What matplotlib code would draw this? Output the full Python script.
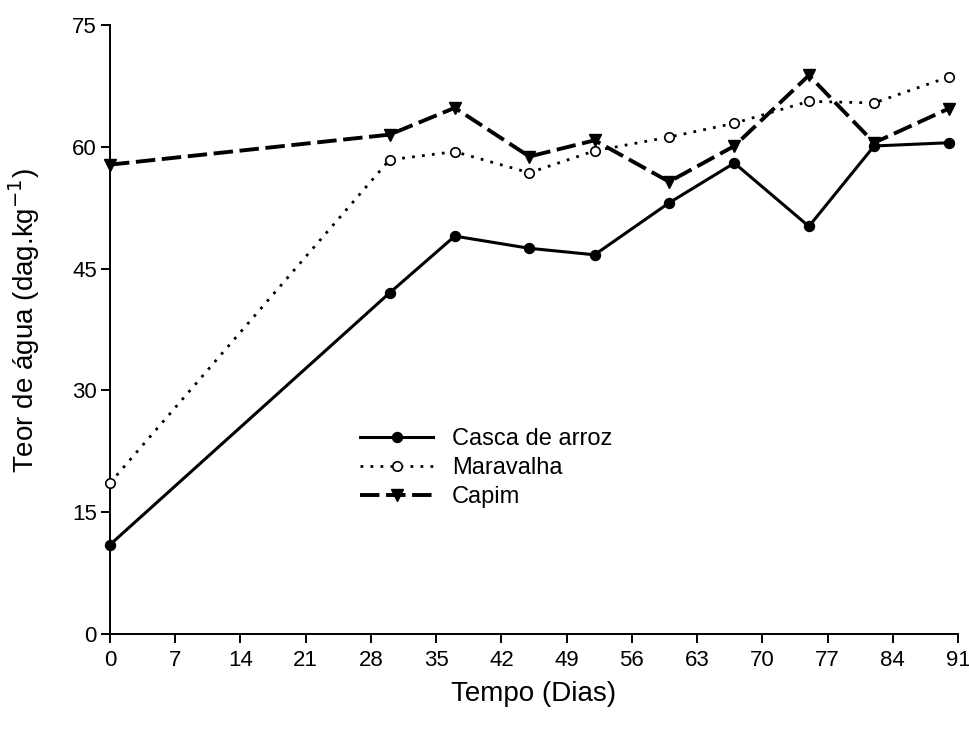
import matplotlib
matplotlib.use("Agg")
import matplotlib.pyplot as plt

plt.rcParams['font.family'] = ['Liberation Sans', 'DejaVu Sans']

dias = [0, 30, 37, 45, 52, 60, 67, 75, 82, 90]
casca = [11.0, 42.0, 49.0, 47.5, 46.7, 53.1, 58.0, 50.2, 60.1, 60.5]
maravalha = [18.6, 58.4, 59.4, 56.8, 59.5, 61.2, 62.9, 65.6, 65.4, 68.6]
capim = [57.8, 61.5, 64.8, 58.8, 60.8, 55.7, 60.1, 68.8, 60.5, 64.7]

xticks = list(range(0, 92, 7))
yticks = list(range(0, 76, 15))

fig = plt.figure(figsize=(9.69, 7.35), dpi=100)
ax = fig.add_axes([110/969, 1 - 634/735, (958-110)/969, (634-25)/735])

ax.plot(dias, casca, '-', color='black', lw=2.2, marker='o', ms=7.2,
        mfc='black', mec='black', label='Casca de arroz', clip_on=False, zorder=3)
ax.plot(dias, maravalha, color='black', lw=2.0, ls=(0, (1, 2.6)), marker='o', ms=6.8,
        mfc='white', mec='black', mew=1.2, label='Maravalha', clip_on=False, zorder=3)
ax.plot(dias, capim, color='black', lw=2.8, ls=(0, (5, 1.7)), marker='v', ms=8.5,
        mfc='black', mec='black', label='Capim', clip_on=False, zorder=3)

ax.set_xlim(0, 91)
ax.set_ylim(0, 75)
ax.set_xticks(xticks)
ax.set_yticks(yticks)
ax.spines['top'].set_visible(False)
ax.spines['right'].set_visible(False)
for s in ('left', 'bottom'):
    ax.spines[s].set_linewidth(1.4)
ax.tick_params(direction='out', length=6.5, width=1.4, labelsize=16, pad=5)
ax.tick_params(axis='y', pad=3)

ax.set_xlabel('Tempo (Dias)', fontsize=20, labelpad=7)
ax.set_ylabel('Teor de água (dag.kg$^{-1}$)', fontsize=20)
ax.yaxis.set_label_coords(-0.08, 0.515)

ax.legend(loc='upper left', bbox_to_anchor=(0.295, 0.338), frameon=False,
          fontsize=17, handlelength=3.1, labelspacing=0.3, handletextpad=0.8,
          borderpad=0, borderaxespad=0)

fig.savefig('out.png', dpi=100)
